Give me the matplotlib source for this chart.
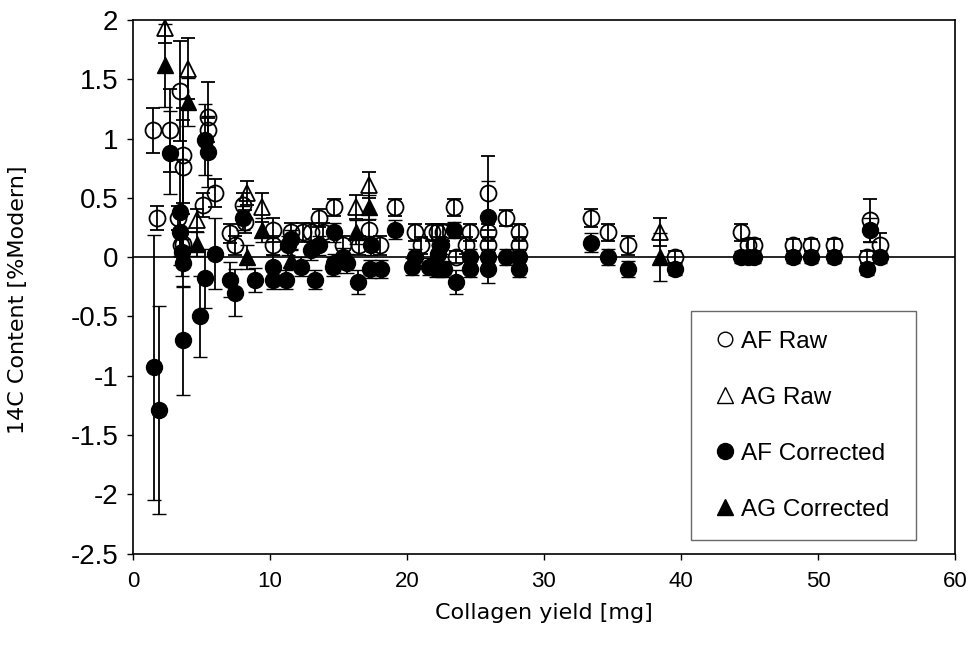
import matplotlib
matplotlib.use("Agg")
import matplotlib.pyplot as plt
from matplotlib.lines import Line2D

plt.rcParams['font.family'] = ['Liberation Sans', 'DejaVu Sans']

# ---- data (x = collagen yield [mg], y = 14C content [%Modern], e = error) ----
af_raw_x = [1.46, 1.75, 2.7, 3.43, 3.67, 3.67, 3.3, 3.5, 3.67, 5.1, 5.5, 5.5, 6.0,
            7.1, 7.45, 8.0, 8.2, 10.2, 10.2, 11.5, 12.4, 13.0, 13.6, 13.9, 14.7,
            15.3, 16.5, 17.2, 18.0, 19.1, 20.6, 21.0, 21.8, 22.2, 22.6, 22.4, 23.4,
            23.6, 24.3, 24.6, 25.9, 25.9, 25.9, 27.2, 28.2, 28.2, 33.4, 34.7, 36.1,
            39.6, 44.4, 44.9, 45.3, 48.2, 49.5, 51.2, 53.8, 53.55, 54.5]
af_raw_y = [1.07, 0.33, 1.07, 1.40, 0.86, 0.76, 0.33, 0.10, 0.11, 0.44, 1.18, 1.07, 0.54,
            0.20, 0.10, 0.44, 0.30, 0.23, 0.10, 0.21, 0.21, 0.21, 0.33, 0.21, 0.42,
            0.10, 0.10, 0.23, 0.10, 0.42, 0.21, 0.10, 0.21, 0.21, 0.21, 0.10, 0.42,
            0.00, 0.10, 0.21, 0.54, 0.21, 0.10, 0.33, 0.21, 0.10, 0.33, 0.21, 0.10,
            0.00, 0.21, 0.10, 0.10, 0.10, 0.10, 0.10, 0.31, 0.00, 0.10]
af_raw_e = [0.19, 0.10, 0.35, 0.42, 0.40, 0.40, 0.10, 0.10, 0.10, 0.10, 0.30, 0.10, 0.12,
            0.08, 0.08, 0.10, 0.10, 0.10, 0.08, 0.08, 0.08, 0.08, 0.08, 0.08, 0.07,
            0.08, 0.08, 0.08, 0.08, 0.07, 0.07, 0.07, 0.07, 0.07, 0.07, 0.07, 0.07,
            0.05, 0.07, 0.07, 0.31, 0.07, 0.07, 0.07, 0.07, 0.07, 0.08, 0.07, 0.08,
            0.05, 0.07, 0.05, 0.05, 0.05, 0.05, 0.05, 0.18, 0.05, 0.10]

ag_raw_x = [2.34, 4.0, 4.65, 8.3, 9.4, 16.3, 17.2, 38.5]
ag_raw_y = [1.93, 1.59, 0.31, 0.54, 0.42, 0.42, 0.61, 0.21]
ag_raw_e = [0.12, 0.26, 0.10, 0.10, 0.12, 0.10, 0.11, 0.12]

af_cor_x = [1.53, 1.9, 2.7, 3.43, 3.43, 3.55, 3.67, 3.62, 4.9, 5.25, 5.5, 5.25, 6.0,
            7.1, 7.45, 8.0, 8.9, 10.2, 10.2, 11.2, 11.3, 11.5, 12.3, 13.0, 13.3,
            13.6, 14.6, 14.7, 14.7, 15.3, 15.6, 16.4, 17.3, 17.4, 18.1, 19.1, 20.4,
            20.6, 21.6, 22.1, 22.3, 22.5, 22.7, 23.4, 23.6, 24.6, 24.6, 25.9, 25.9,
            25.9, 27.2, 28.2, 28.2, 33.4, 34.7, 36.1, 39.6, 44.4, 44.9, 45.3, 48.2,
            49.5, 51.2, 53.8, 53.55, 54.5]
af_cor_y = [-0.93, -1.29, 0.88, 0.38, 0.21, 0.045, -0.05, -0.70, -0.50, 0.99, 0.89, -0.18, 0.03,
            -0.19, -0.30, 0.33, -0.19, -0.08, -0.19, -0.19, 0.10, 0.15, -0.08, 0.06, -0.19,
            0.10, -0.08, 0.21, -0.05, 0.00, -0.05, -0.21, -0.10, 0.10, -0.10, 0.23, -0.08,
            0.00, -0.08, -0.10, 0.03, 0.10, -0.10, 0.23, -0.21, 0.00, -0.10, 0.34, 0.00,
            -0.10, 0.00, 0.00, -0.10, 0.12, 0.00, -0.10, -0.10, 0.00, 0.00, 0.00, 0.00,
            0.00, 0.00, 0.23, -0.10, 0.00]
af_cor_e = [1.12, 0.88, 0.35, 0.45, 0.20, 0.20, 0.20, 0.46, 0.34, 0.30, 0.30, 0.25, 0.30,
            0.15, 0.20, 0.10, 0.10, 0.10, 0.08, 0.08, 0.08, 0.08, 0.08, 0.08, 0.08,
            0.08, 0.08, 0.08, 0.08, 0.08, 0.08, 0.10, 0.08, 0.08, 0.08, 0.08, 0.07,
            0.07, 0.07, 0.07, 0.07, 0.07, 0.07, 0.07, 0.10, 0.07, 0.07, 0.30, 0.07,
            0.12, 0.07, 0.07, 0.07, 0.08, 0.07, 0.07, 0.05, 0.05, 0.05, 0.05, 0.05,
            0.05, 0.05, 0.10, 0.05, 0.05]

ag_cor_x = [2.34, 4.0, 4.65, 8.3, 9.4, 11.5, 16.3, 17.2, 38.5]
ag_cor_y = [1.62, 1.31, 0.11, 0.00, 0.23, -0.02, 0.21, 0.42, 0.00]
ag_cor_e = [0.35, 0.20, 0.10, 0.10, 0.10, 0.08, 0.10, 0.10, 0.20]

labels = ['AF Raw', 'AG Raw', 'AF Corrected', 'AG Corrected']

# ---- figure ----
fig = plt.figure(figsize=(9.7, 6.48), dpi=100)
ax = fig.add_axes([0.1371, 0.1458, 0.8474, 0.8233])

ax.axhline(0, color='black', lw=1.2, zorder=1)

ekw = dict(ecolor='black', elinewidth=1.3, capsize=5, capthick=1.3, linestyle='none')
ax.errorbar(af_raw_x, af_raw_y, yerr=af_raw_e, marker='o', ms=11.5, mfc='none',
            mec='black', mew=1.3, zorder=3, **ekw)
ax.errorbar(ag_raw_x, ag_raw_y, yerr=ag_raw_e, marker='^', ms=12, mfc='none',
            mec='black', mew=1.3, zorder=3, **ekw)
ax.errorbar(af_cor_x, af_cor_y, yerr=af_cor_e, marker='o', ms=11.5, mfc='black',
            mec='black', mew=1.0, zorder=4, **ekw)
ax.errorbar(ag_cor_x, ag_cor_y, yerr=ag_cor_e, marker='^', ms=12, mfc='black',
            mec='black', mew=1.0, zorder=4, **ekw)

ax.set_xlim(0, 60)
ax.set_ylim(-2.5, 2)
ax.set_xticks([0, 10, 20, 30, 40, 50, 60])
ax.set_yticks([-2.5, -2, -1.5, -1, -0.5, 0, 0.5, 1, 1.5, 2])
ax.set_yticklabels(['-2.5', '-2', '-1.5', '-1', '-0.5', '0', '0.5', '1', '1.5', '2'])
ax.tick_params(axis='y', direction='out', length=4.5, width=1, labelsize=20, pad=6)
ax.tick_params(axis='x', direction='out', length=4.5, width=1, labelsize=16, pad=8)
for s in ax.spines.values():
    s.set_linewidth(1.2)
    s.set_color('black')

ax.set_xlabel('Collagen yield [mg]', fontsize=16, family=['DejaVu Sans'])
ax.set_ylabel('14C Content [%Modern]', fontsize=16, family=['DejaVu Sans'])
ax.xaxis.set_label_coords(0.5, -0.092)
ax.yaxis.set_label_coords(-0.128, 0.475)

handles = [
    Line2D([], [], marker='o', ms=10.5, mfc='none', mec='black', mew=1.0, ls='none'),
    Line2D([], [], marker='^', ms=11, mfc='none', mec='black', mew=1.0, ls='none'),
    Line2D([], [], marker='o', ms=11.5, mfc='black', mec='black', ls='none'),
    Line2D([], [], marker='^', ms=11.5, mfc='black', mec='black', ls='none'),
]
leg = ax.legend(handles, labels, loc='lower left',
                bbox_to_anchor=(0.679, 0.025, 0.274, 0.424), mode='expand',
                fontsize=17.5, frameon=True, fancybox=False, edgecolor='#444444',
                handlelength=1.2, handletextpad=0.05, labelspacing=1.4,
                borderpad=0.8, borderaxespad=0)
leg.get_frame().set_linewidth(1.0)

fig.savefig('out.png', dpi=100)
